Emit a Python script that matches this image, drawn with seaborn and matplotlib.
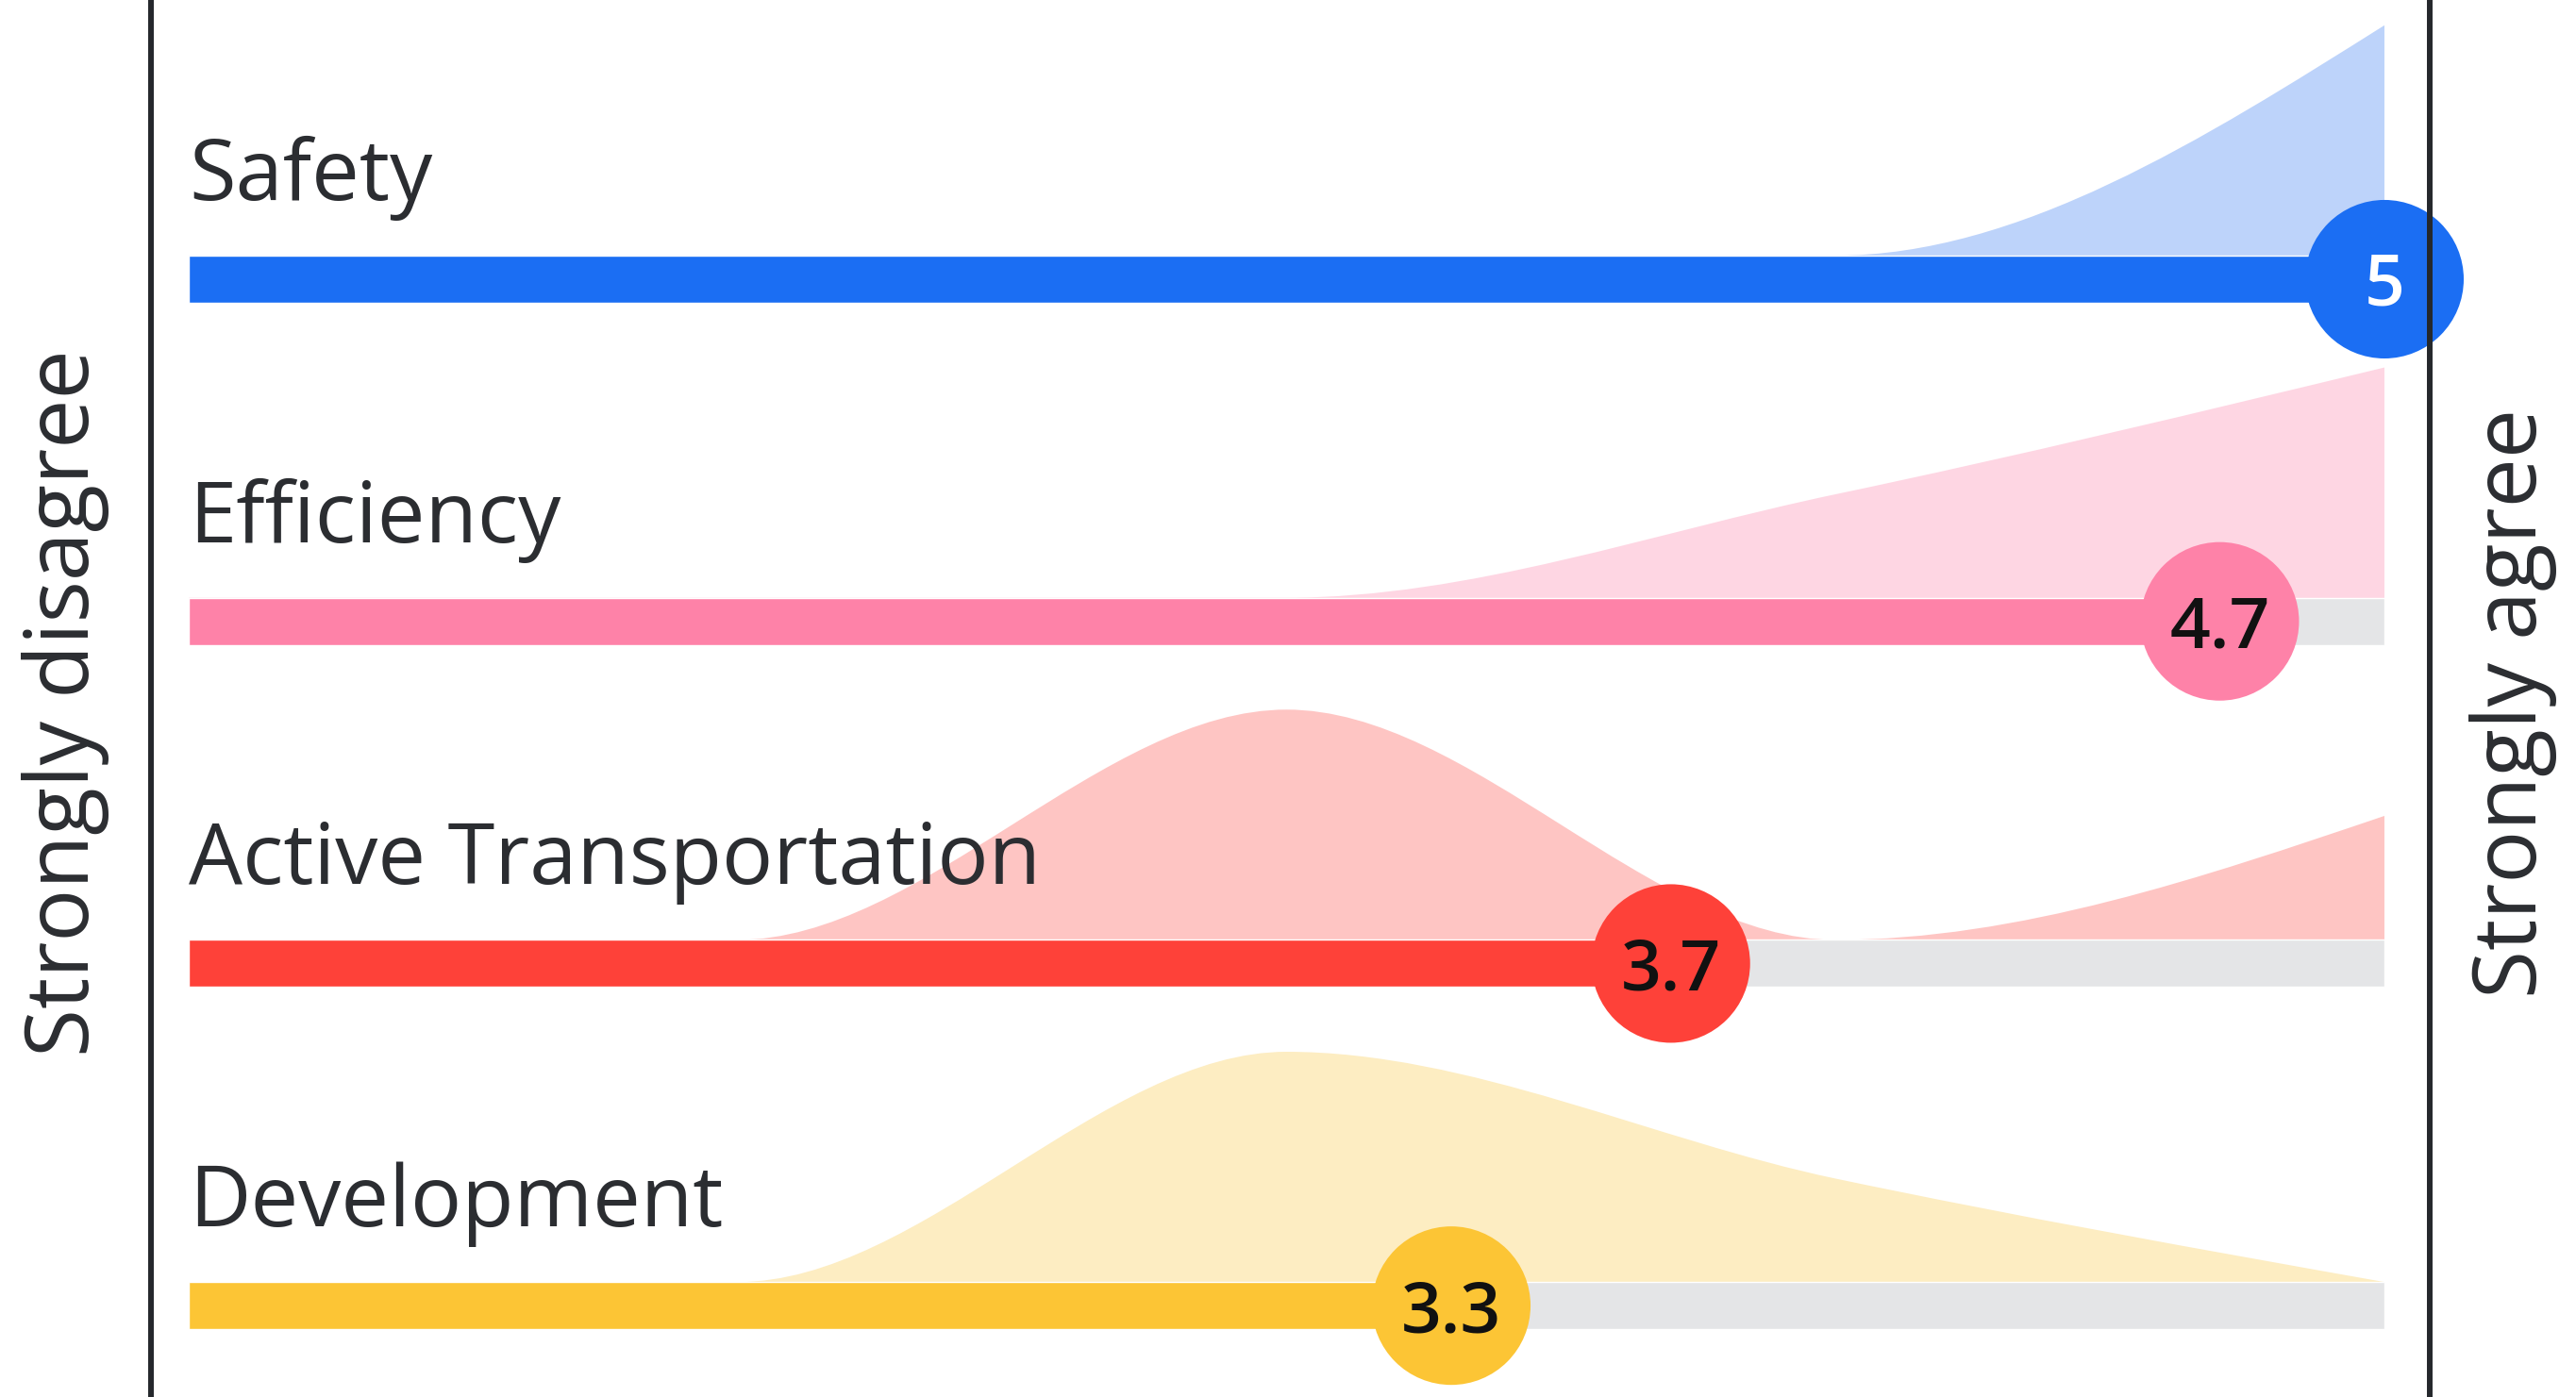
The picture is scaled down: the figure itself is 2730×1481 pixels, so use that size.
import numpy as np
import matplotlib
matplotlib.use("Agg")
import matplotlib.pyplot as plt
from matplotlib.path import Path
from matplotlib.patches import PathPatch
import seaborn as sns

# survey data: share of answers per level (1 = strongly disagree ... 5 = strongly agree)
categories = ["Safety", "Efficiency", "Active Transportation", "Development"]
levels = [1, 2, 3, 4, 5]
safety_dist = [0, 0, 0, 0, 100]
efficiency_dist = [0, 0, 0, 31, 69]
active_dist = [0, 0, 65, 0, 35]
development_dist = [0, 0, 69, 31, 0]
means = [5, 4.7, 3.7, 3.3]
mean_labels = ["5", "4.7", "3.7", "3.3"]

bar_colors = ["#1b6ef3", "#fe82a8", "#fe4139", "#fcc535"]
fill_colors = ["#bdd3fa", "#fed6e3", "#fec5c3", "#fdedc2"]
text_colors = ["white", "#111111", "#111111", "#111111"]
dists = [safety_dist, efficiency_dist, active_dist, development_dist]


def monotone_path(xs, ys):
    # d3 curveMonotoneX as cubic bezier segments
    xs = np.asarray(xs, float)
    ys = np.asarray(ys, float)
    n = len(xs)
    h = np.diff(xs)
    s = np.diff(ys) / h
    t = np.zeros(n)
    for i in range(1, n - 1):
        p = (s[i - 1] * h[i] + s[i] * h[i - 1]) / (h[i - 1] + h[i])
        t[i] = (np.sign(s[i - 1]) + np.sign(s[i])) * min(abs(s[i - 1]), abs(s[i]), 0.5 * abs(p))
    t[0] = (3 * s[0] - t[1]) / 2
    t[-1] = (3 * s[-1] - t[-2]) / 2
    verts = [(xs[0], ys[0])]
    codes = [Path.MOVETO]
    for i in range(n - 1):
        dx = h[i] / 3
        verts += [(xs[i] + dx, ys[i] + dx * t[i]),
                  (xs[i + 1] - dx, ys[i + 1] - dx * t[i + 1]),
                  (xs[i + 1], ys[i + 1])]
        codes += [Path.CURVE4] * 3
    return verts, codes


sns.set_style("white")
plt.rcParams["font.family"] = ["Open Sans", "DejaVu Sans"]

fig = plt.figure(figsize=(27.3, 14.81), dpi=100)
ax = fig.add_axes([0, 0, 1, 1])
ax.set_xlim(0.6562, 5.349)
ax.set_ylim(3.267, -0.816)
ax.axis("off")

bar_h = 0.138
curve_h = 0.673

for i, cat in enumerate(categories):
    d = np.array(dists[i], float)
    norm = d / d.max()
    top = i - bar_h / 2
    verts, codes = monotone_path(levels, top - curve_h * norm)
    verts = verts + [(levels[-1], i), (levels[0], i), verts[0]]
    codes = codes + [Path.LINETO, Path.LINETO, Path.CLOSEPOLY]
    ax.add_patch(PathPatch(Path(verts, codes), facecolor=fill_colors[i],
                           edgecolor="none", zorder=1))
    # grey track + coloured bar
    ax.barh(i, levels[-1] - means[i], left=means[i], height=bar_h,
            color="#e4e5e7", zorder=2)
    ax.barh(i, means[i] - levels[0], left=levels[0], height=bar_h,
            color=bar_colors[i], zorder=3)
    ax.text(levels[0], i - 0.232, cat, fontsize=65, color="#2b2d31",
            ha="left", va="baseline", zorder=5)

sns.scatterplot(x=means, y=list(range(len(categories))), hue=categories,
                palette=bar_colors, s=121 ** 2, linewidth=0, legend=False,
                ax=ax, zorder=4)
for i in range(len(categories)):
    ax.text(means[i], i, mean_labels[i], fontsize=54, color=text_colors[i],
            fontweight="semibold", ha="center", va="center_baseline", zorder=5)

ax.axvline(0.931, color="#25282c", lw=4.3, zorder=6)
ax.axvline(5.0825, color="#25282c", lw=4.3, zorder=6)

fig.text(70 / 2730, 1 - 745 / 1481, "Strongly disagree", rotation=90,
         fontsize=67, color="#2b2d31", ha="center", va="center")
fig.text(2664 / 2730, 1 - 745 / 1481, "Strongly agree", rotation=90,
         fontsize=67, color="#2b2d31", ha="center", va="center")

fig.savefig("out.png", dpi=100)
